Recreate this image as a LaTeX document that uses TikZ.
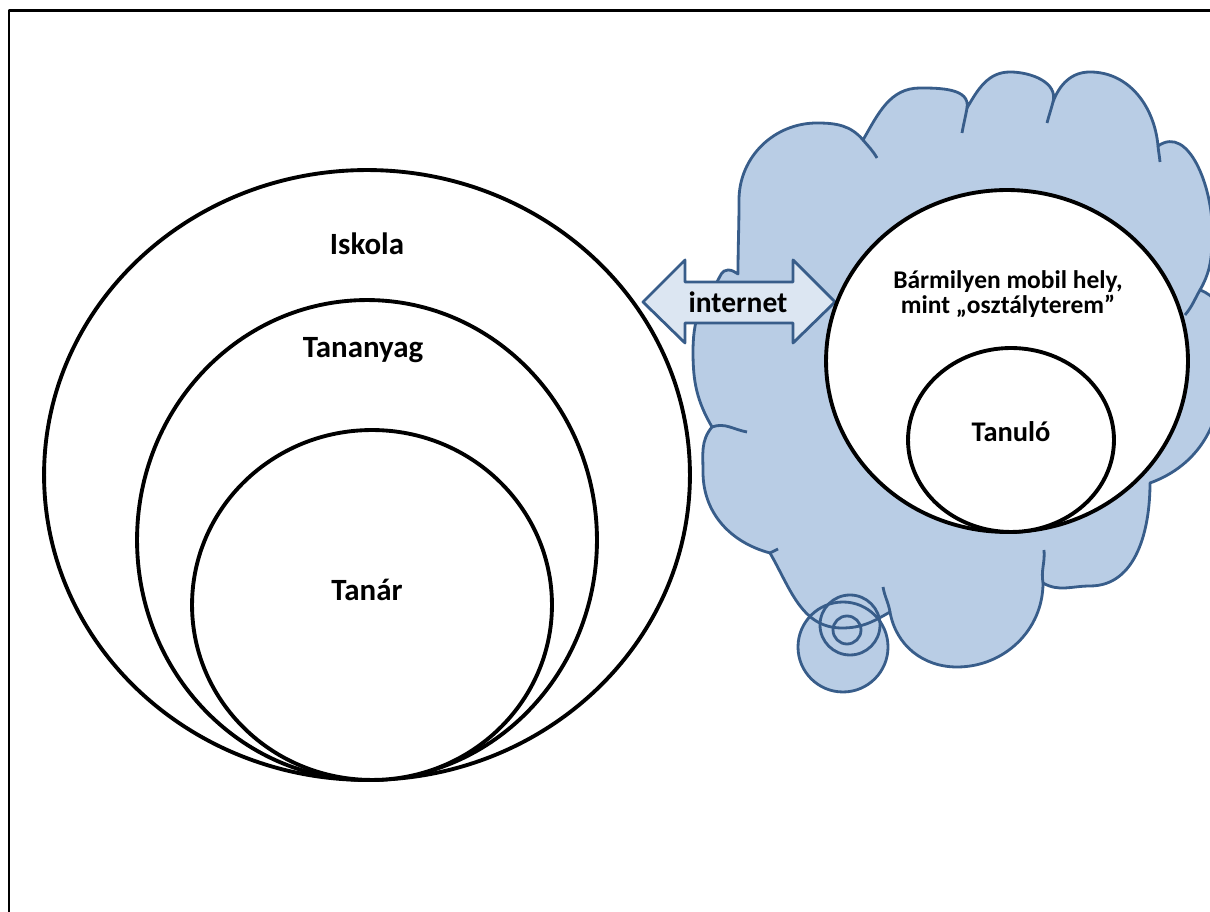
\documentclass[tikz,border=0pt]{standalone}
\usepackage{fontspec}
\setmainfont{Carlito}
\usetikzlibrary{shapes.geometric}
\definecolor{cloudfill}{RGB}{185,205,229}
\definecolor{cloudedge}{RGB}{56,93,138}
\definecolor{arrowfill}{RGB}{220,230,242}

\begin{document}
\begin{tikzpicture}[x = 0.02cm, y = 0.02cm, line join = round,
  ring/.style = { ellipse, draw, fill = white, line width = 2.2pt, inner sep = 0pt },
  word/.style = { inner sep = 0pt, font = \bfseries\fontsize{17.6}{21}\selectfont },
  blob/.style = { draw = cloudedge, line width = 1.6pt } ]
  \useasboundingbox (0, 0) rectangle (1210, 912);
  \draw [line width = 1.7pt] (1230, 901) -- (9, 901) -- (9, -20);

  % cloud
  \fill [cloudfill] (843, 265) circle (45);
  \path [blob, fill = cloudfill] (738, 638)
    to[out = 90, in = -90] (739, 712) to[out = 90, in = 180] (817, 789) to[out = 0, in = 130] (863, 772)
    to[out = 60, in = 180] (920, 824) to[out = 0, in = 80] (967, 804)
    to[out = 60, in = 180] (1010, 840) to[out = 0, in = 75] (1053, 810)
    to[out = 70, in = 180] (1090, 840) to[out = 0, in = 95] (1158, 766)
    to[out = 35, in = 90] (1212, 685) to[out = -90, in = 60] (1200, 622)
    to[out = -20, in = 90] (1222, 540) to[out = -90, in = 20] (1150, 429)
    to[out = -90, in = 0] (1090, 326) to[out = 180, in = -30] (1043, 329)
    to[out = -90, in = 0] (957, 245) to[out = 180, in = -80] (890, 300)
    to[out = -150, in = 0] (842, 284) to[out = 180, in = -60] (770, 359)
    to[out = 165, in = -90] (703, 440) to[out = 90, in = -130] (712, 485)
    to[out = 120, in = -90] (693, 560) to[out = 90, in = -130] (717, 630)
    to[out = 60, in = 180] (728, 642) to[out = 0, in = 150] cycle;
  \draw [blob] (863, 772) to[out = -50, in = 120] (877, 754);
  \draw [blob] (967, 804) to[out = -100, in = 80] (962, 779);
  \draw [blob] (1053, 810) to[out = -105, in = 75] (1047, 789);
  \draw [blob] (1158, 766) to[out = -85, in = 95] (1160, 750);
  \draw [blob] (1200, 622) to[out = -120, in = 50] (1185, 597);
  \draw [blob] (1043, 329) to[out = 100, in = -85] (1044, 362);
  \draw [blob] (890, 300) to[out = 100, in = -80] (883, 325);
  \draw [blob] (770, 359) to[out = 20, in = 200] (778, 363);
  \draw [blob] (712, 485) to[out = 20, in = 170] (747, 480);
  \draw [blob] (843, 265) circle (45);
  \draw [blob] (850, 287) circle (30);
  \draw [blob] (847, 282) circle (14);

  % arrow
  \draw [blob, fill = arrowfill] (643, 610) -- (685, 652) -- (685, 630) -- (793, 630) -- (793, 652)
    -- (835, 610) -- (793, 569) -- (793, 589) -- (685, 589) -- (685, 569) -- cycle;
  \node (internet) [word, font = \bfseries\fontsize{16.8}{20}\selectfont] at (738, 610) {internet};

  % right side
  \node (hely) [ring, minimum width = 7.24cm, minimum height = 6.84cm] at (1007, 551) {};
  \node (tanulo) [ring, minimum width = 4.12cm, minimum height = 3.68cm] at (1011, 472) {};
  \node (helytext) [word, align = center, font = \bfseries\fontsize{14.5}{14}\selectfont] at (1008, 618)
    {Bármilyen mobil hely,\\ mint „osztályterem”};
  \node (tanulotext) [word, font = \bfseries\fontsize{16.2}{20}\selectfont] at (1011, 480) {Tanuló};

  % left side
  \node (iskola) [ring, minimum width = 12.92cm, minimum height = 12.2cm] at (367, 437) {};
  \node (tananyag) [ring, minimum width = 9.2cm, minimum height = 9.6cm] at (367, 372) {};
  \node (tanar) [ring, minimum width = 7.2cm, minimum height = 7cm] at (372, 307) {};
  \node (iskolatext) [word] at (367, 668) {Iskola};
  \node (tananyagtext) [word] at (363, 562) {Tananyag};
  \node (tanartext) [word] at (367, 322) {Tanár};
\end{tikzpicture}
\end{document}
